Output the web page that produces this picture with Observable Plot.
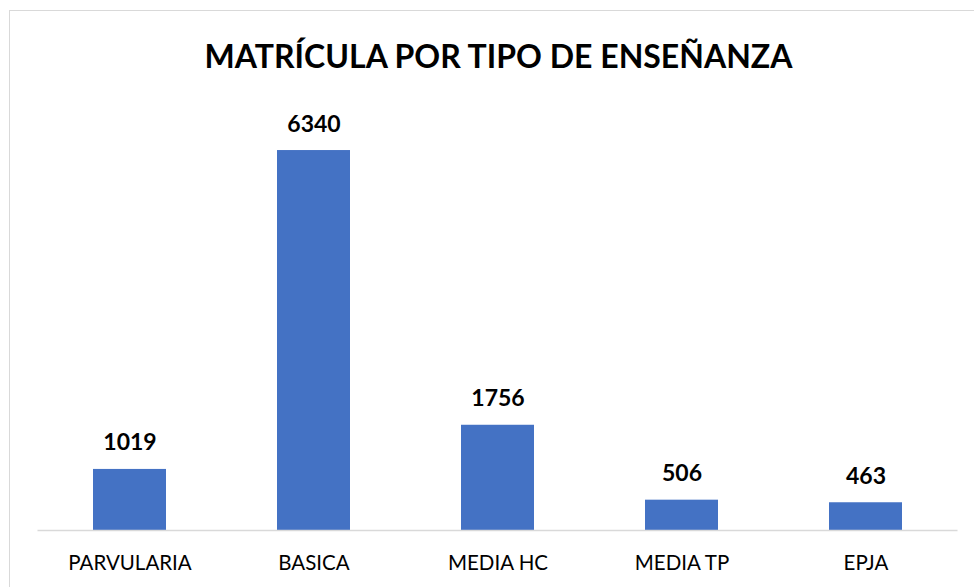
<!DOCTYPE html>
<html>
<head>
<meta charset="utf-8">
<script src="https://cdn.jsdelivr.net/npm/d3@7"></script>
<script src="https://cdn.jsdelivr.net/npm/@observablehq/plot@0.6"></script>
<style>
  html, body { margin: 0; padding: 0; background: #fff; }
  #wrap { position: relative; width: 974px; height: 587px; overflow: hidden; }
  #frame { position: absolute; left: 9px; top: 10px; width: 980px; height: 600px; border: 1.5px solid #d9d9d9; box-sizing: border-box; }
  #title { position: absolute; left: 0; top: 0; width: 997px; height: 100px; line-height: 112px; text-align: center;
           font-family: Lato, "Open Sans", sans-serif; font-weight: 700; font-size: 32px; color: #000; }
  #chart { position: absolute; left: 0; top: 100px; }
</style>
</head>
<body>
<div id="wrap">
  <div id="frame"></div>
  <div id="title">MATRÍCULA POR TIPO DE ENSEÑANZA</div>
  <div id="chart"></div>
</div>
<script>
const categories = ["PARVULARIA", "BASICA", "MEDIA HC", "MEDIA TP", "EPJA"];
const values = [1019, 6340, 1756, 506, 463];

const data = categories.map((c, i) => ({category: c, value: values[i]}));

const plot = Plot.plot({
  width: 974,
  height: 487,
  marginLeft: 37.5,
  marginRight: 16.5,
  marginTop: 0,
  marginBottom: 57,
  style: {fontFamily: "Lato, 'Open Sans', sans-serif", background: "transparent", color: "#000"},
  x: {domain: categories, paddingInner: 0.603, paddingOuter: 0.3, label: null},
  y: {domain: [0, 7175], axis: null},
  marks: [
    Plot.barY(data, {x: "category", y: "value", fill: "#4472C4"}),
    Plot.ruleY([0], {stroke: "#d9d9d9", strokeWidth: 1.5}),
    Plot.text(data, {x: "category", y: "value", text: d => String(d.value), lineAnchor: "bottom", dy: -19,
      fontSize: 23, fontWeight: 700, fill: "#000"}),
    Plot.axisX({tickSize: 0, tickPadding: 25, fontSize: 20.5, fill: "#000", label: null})
  ]
});
document.getElementById("chart").appendChild(plot);
</script>
</body>
</html>
